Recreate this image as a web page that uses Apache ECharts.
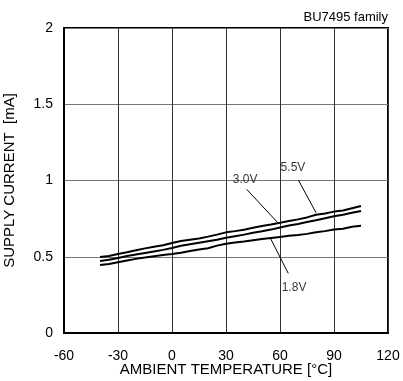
<!DOCTYPE html>
<html>
<head>
<meta charset="utf-8">
<script src="https://cdn.jsdelivr.net/npm/echarts@6/dist/echarts.min.js"></script>
<style>html,body{margin:0;padding:0;background:#fff}#c{width:403px;height:381px}</style>
</head>
<body>
<div id="c"></div>
<script>
var temps = [-40,-35,-30,-25,-20,-15,-10,-5,0,5,10,15,20,25,30,35,40,45,50,55,60,65,70,75,80,85,90,95,100,105];
var v55 = [0.498,0.505,0.518,0.530,0.543,0.555,0.566,0.575,0.590,0.603,0.612,0.620,0.632,0.645,0.660,0.668,0.677,0.690,0.702,0.712,0.723,0.735,0.745,0.758,0.775,0.784,0.796,0.803,0.818,0.833];
var v30 = [0.472,0.480,0.492,0.505,0.515,0.525,0.535,0.545,0.557,0.572,0.582,0.592,0.602,0.612,0.625,0.635,0.645,0.657,0.667,0.678,0.692,0.705,0.715,0.728,0.740,0.752,0.766,0.776,0.788,0.800];
var v18 = [0.446,0.452,0.464,0.475,0.486,0.495,0.503,0.511,0.518,0.526,0.537,0.547,0.556,0.573,0.585,0.593,0.600,0.608,0.616,0.623,0.630,0.637,0.643,0.650,0.660,0.668,0.678,0.683,0.697,0.704];
var seriesNames = ['5.5V','3.0V','1.8V'];
var labelPos = [[67.2,1.082],[40.6,1.003],[67.8,0.300]];
var leaders = [
  [[70.2,1.003],[80,0.789]],
  [[41.5,0.942],[59.1,0.719]],
  [[54.4,0.628],[64.6,0.391]]
];
var xTicks = [-60,-30,0,30,60,90,120];
var yTicks = [0,0.5,1,1.5,2];

function pairs(xs, ys){ return xs.map(function(x,i){return [x, ys[i]];}); }
var font = 'Liberation Sans, Arial, sans-serif';
var curveSeries = [v55, v30, v18].map(function(vals, i){
  return {type:'line', name:seriesNames[i], data:pairs(temps, vals), showSymbol:false, symbol:'none',
    lineStyle:{color:'#000', width:2}, z:5, silent:true};
});
var leaderSeries = leaders.map(function(seg){
  return {type:'line', data:seg, showSymbol:false, symbol:'none', lineStyle:{color:'#000', width:1}, z:4, silent:true};
});
var labelSeries = {
  type:'scatter', symbolSize:0, silent:true, z:6,
  data: seriesNames.map(function(n,i){ return {name:n, value:labelPos[i]}; }),
  label:{show:true, position:'inside', formatter:'{b}', color:'#000', fontFamily:font, fontSize:12}
};

var chart = echarts.init(document.getElementById('c'));
chart.setOption({
  animation:false,
  title:{text:'BU7495 family', right:10, top:6, textStyle:{fontFamily:font, fontSize:13, fontWeight:'normal', color:'#000'}},
  grid:{left:64, right:15, top:28, bottom:48, show:true, borderColor:'#000', borderWidth:2,
    containLabel:false, outerBoundsMode:'none'},
  xAxis:{type:'value', min:-60, max:120, interval:30,
    name:'AMBIENT TEMPERATURE [°C]', nameLocation:'middle', nameGap:29, nameMoveOverlap:false,
    nameTextStyle:{fontFamily:font, fontSize:15, color:'#000'},
    axisLine:{show:true, onZero:false, lineStyle:{color:'#000', width:2}}, axisTick:{show:false},
    axisLabel:{margin:16, fontFamily:font, fontSize:14, color:'#000',
      formatter:function(v){ return xTicks.indexOf(v) >= 0 ? String(v) : ''; }},
    splitLine:{show:true, lineStyle:{color:'#333', width:1}}},
  yAxis:{type:'value', min:0, max:2, interval:0.5,
    name:'SUPPLY CURRENT  [mA]', nameLocation:'middle', nameGap:47, nameMoveOverlap:false,
    nameTextStyle:{fontFamily:font, fontSize:15, color:'#000'},
    axisLine:{show:true, onZero:false, lineStyle:{color:'#000', width:2}}, axisTick:{show:false},
    axisLabel:{margin:11, fontFamily:font, fontSize:14, color:'#000',
      formatter:function(v){ return yTicks.indexOf(v) >= 0 ? String(v) : ''; }},
    splitLine:{show:true, lineStyle:{color:'#777', width:1}}},
  series: curveSeries.concat(leaderSeries).concat([labelSeries])
});
</script>
</body>
</html>
